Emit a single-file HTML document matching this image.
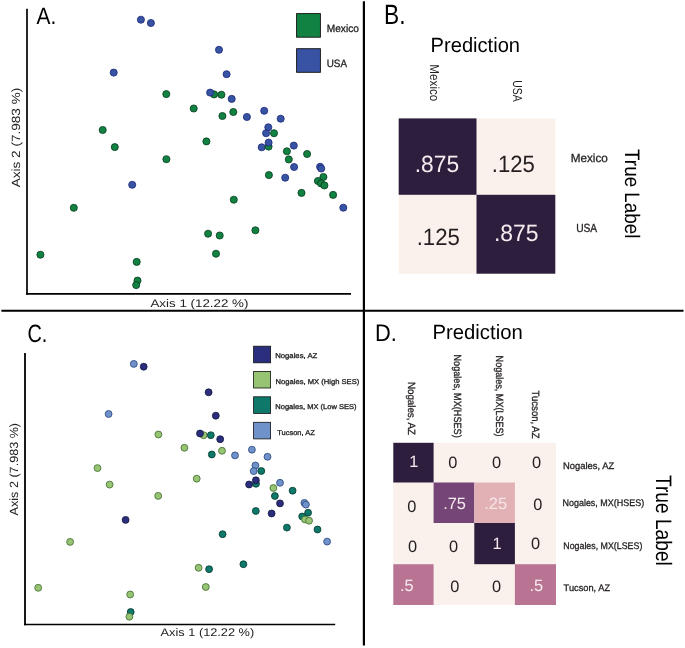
<!DOCTYPE html>
<html><head><meta charset="utf-8"><style>
html,body{margin:0;padding:0;background:#fff;}
svg{display:block;font-family:"Liberation Sans", sans-serif;}
svg{will-change:transform}
text{text-rendering:geometricPrecision}
</style></head><body>
<svg width="685" height="648" viewBox="0 0 685 648">
<rect width="685" height="648" fill="#fff"/>
<line x1="1.4" y1="310.75" x2="683.5" y2="310.75" stroke="#000" stroke-width="2.2"/>
<line x1="363.9" y1="1.2" x2="363.9" y2="645.6" stroke="#000" stroke-width="2.2"/>
<line x1="27.0" y1="8.8" x2="27.0" y2="294.7" stroke="#000" stroke-width="1.7"/>
<line x1="26.2" y1="293.8" x2="351" y2="293.8" stroke="#000" stroke-width="1.8"/>
<line x1="25.0" y1="353" x2="25.0" y2="625.3" stroke="#000" stroke-width="1.8"/>
<line x1="24.1" y1="624.5" x2="335.2" y2="624.5" stroke="#000" stroke-width="1.7"/>
<circle cx="140.90" cy="19.70" r="3.55" fill="#3853a3" stroke="#1a2878" stroke-width="0.8"/>
<circle cx="150.90" cy="23.00" r="3.55" fill="#3853a3" stroke="#1a2878" stroke-width="0.8"/>
<circle cx="219.00" cy="49.80" r="3.55" fill="#3853a3" stroke="#1a2878" stroke-width="0.8"/>
<circle cx="226.60" cy="74.20" r="3.55" fill="#3853a3" stroke="#1a2878" stroke-width="0.8"/>
<circle cx="113.70" cy="72.60" r="3.55" fill="#3853a3" stroke="#1a2878" stroke-width="0.8"/>
<circle cx="231.70" cy="98.90" r="3.55" fill="#3853a3" stroke="#1a2878" stroke-width="0.8"/>
<circle cx="246.90" cy="117.00" r="3.55" fill="#3853a3" stroke="#1a2878" stroke-width="0.8"/>
<circle cx="264.20" cy="110.80" r="3.55" fill="#3853a3" stroke="#1a2878" stroke-width="0.8"/>
<circle cx="280.70" cy="118.70" r="3.55" fill="#3853a3" stroke="#1a2878" stroke-width="0.8"/>
<circle cx="268.30" cy="127.30" r="3.55" fill="#3853a3" stroke="#1a2878" stroke-width="0.8"/>
<circle cx="266.10" cy="133.20" r="3.55" fill="#3853a3" stroke="#1a2878" stroke-width="0.8"/>
<circle cx="261.70" cy="147.30" r="3.55" fill="#3853a3" stroke="#1a2878" stroke-width="0.8"/>
<circle cx="293.80" cy="145.60" r="3.55" fill="#3853a3" stroke="#1a2878" stroke-width="0.8"/>
<circle cx="294.10" cy="167.00" r="3.55" fill="#3853a3" stroke="#1a2878" stroke-width="0.8"/>
<circle cx="320.10" cy="166.80" r="3.55" fill="#3853a3" stroke="#1a2878" stroke-width="0.8"/>
<circle cx="321.20" cy="168.50" r="3.55" fill="#3853a3" stroke="#1a2878" stroke-width="0.8"/>
<circle cx="285.20" cy="177.70" r="3.55" fill="#3853a3" stroke="#1a2878" stroke-width="0.8"/>
<circle cx="343.30" cy="207.70" r="3.55" fill="#3853a3" stroke="#1a2878" stroke-width="0.8"/>
<circle cx="132.20" cy="184.80" r="3.55" fill="#3853a3" stroke="#1a2878" stroke-width="0.8"/>
<circle cx="166.30" cy="94.10" r="3.55" fill="#118242" stroke="#063a1c" stroke-width="0.8"/>
<circle cx="214.10" cy="94.40" r="3.55" fill="#118242" stroke="#063a1c" stroke-width="0.8"/>
<circle cx="221.40" cy="94.70" r="3.55" fill="#118242" stroke="#063a1c" stroke-width="0.8"/>
<circle cx="193.70" cy="108.50" r="3.55" fill="#118242" stroke="#063a1c" stroke-width="0.8"/>
<circle cx="222.40" cy="116.00" r="3.55" fill="#118242" stroke="#063a1c" stroke-width="0.8"/>
<circle cx="233.30" cy="112.00" r="3.55" fill="#118242" stroke="#063a1c" stroke-width="0.8"/>
<circle cx="274.00" cy="133.20" r="3.55" fill="#118242" stroke="#063a1c" stroke-width="0.8"/>
<circle cx="206.40" cy="141.40" r="3.55" fill="#118242" stroke="#063a1c" stroke-width="0.8"/>
<circle cx="268.60" cy="146.60" r="3.55" fill="#118242" stroke="#063a1c" stroke-width="0.8"/>
<circle cx="286.90" cy="151.30" r="3.55" fill="#118242" stroke="#063a1c" stroke-width="0.8"/>
<circle cx="307.10" cy="154.00" r="3.55" fill="#118242" stroke="#063a1c" stroke-width="0.8"/>
<circle cx="288.80" cy="159.40" r="3.55" fill="#118242" stroke="#063a1c" stroke-width="0.8"/>
<circle cx="323.40" cy="177.00" r="3.55" fill="#118242" stroke="#063a1c" stroke-width="0.8"/>
<circle cx="317.90" cy="181.00" r="3.55" fill="#118242" stroke="#063a1c" stroke-width="0.8"/>
<circle cx="321.00" cy="183.40" r="3.55" fill="#118242" stroke="#063a1c" stroke-width="0.8"/>
<circle cx="324.40" cy="185.40" r="3.55" fill="#118242" stroke="#063a1c" stroke-width="0.8"/>
<circle cx="268.90" cy="175.10" r="3.55" fill="#118242" stroke="#063a1c" stroke-width="0.8"/>
<circle cx="301.50" cy="192.90" r="3.55" fill="#118242" stroke="#063a1c" stroke-width="0.8"/>
<circle cx="333.10" cy="194.90" r="3.55" fill="#118242" stroke="#063a1c" stroke-width="0.8"/>
<circle cx="233.80" cy="199.70" r="3.55" fill="#118242" stroke="#063a1c" stroke-width="0.8"/>
<circle cx="102.70" cy="130.00" r="3.55" fill="#118242" stroke="#063a1c" stroke-width="0.8"/>
<circle cx="114.80" cy="147.10" r="3.55" fill="#118242" stroke="#063a1c" stroke-width="0.8"/>
<circle cx="166.40" cy="159.20" r="3.55" fill="#118242" stroke="#063a1c" stroke-width="0.8"/>
<circle cx="73.80" cy="207.80" r="3.55" fill="#118242" stroke="#063a1c" stroke-width="0.8"/>
<circle cx="40.40" cy="254.70" r="3.55" fill="#118242" stroke="#063a1c" stroke-width="0.8"/>
<circle cx="208.10" cy="233.70" r="3.55" fill="#118242" stroke="#063a1c" stroke-width="0.8"/>
<circle cx="219.70" cy="235.50" r="3.55" fill="#118242" stroke="#063a1c" stroke-width="0.8"/>
<circle cx="255.40" cy="230.30" r="3.55" fill="#118242" stroke="#063a1c" stroke-width="0.8"/>
<circle cx="216.00" cy="253.70" r="3.55" fill="#118242" stroke="#063a1c" stroke-width="0.8"/>
<circle cx="136.70" cy="261.90" r="3.55" fill="#118242" stroke="#063a1c" stroke-width="0.8"/>
<circle cx="137.50" cy="280.60" r="3.55" fill="#118242" stroke="#063a1c" stroke-width="0.8"/>
<circle cx="136.20" cy="285.10" r="3.55" fill="#118242" stroke="#063a1c" stroke-width="0.8"/>
<circle cx="210.10" cy="92.60" r="3.55" fill="#3853a3" stroke="#1a2878" stroke-width="0.8"/>
<circle cx="268.60" cy="142.60" r="3.55" fill="#3853a3" stroke="#1a2878" stroke-width="0.8"/>
<rect x="296.6" y="13.6" width="23.8" height="23.6" fill="#118242" stroke="#111" stroke-width="0.9"/>
<rect x="296.6" y="48.7" width="23.8" height="23.6" fill="#3853a3" stroke="#111" stroke-width="0.9"/>
<rect x="398.7" y="118.4" width="156.6" height="155.3" fill="#faf1ec"/>
<rect x="398.7" y="118.4" width="77.8" height="76.4" fill="#2d1e3e"/>
<rect x="476.5" y="194.8" width="78.8" height="78.9" fill="#2d1e3e"/>
<circle cx="203.60" cy="435.20" r="3.45" fill="#96c472" stroke="#3f6a2e" stroke-width="0.8"/>
<circle cx="210.80" cy="435.20" r="3.45" fill="#0e786a" stroke="#05382f" stroke-width="0.8"/>
<circle cx="211.80" cy="454.50" r="3.45" fill="#0e786a" stroke="#05382f" stroke-width="0.8"/>
<circle cx="261.30" cy="471.00" r="3.45" fill="#0e786a" stroke="#05382f" stroke-width="0.8"/>
<circle cx="256.00" cy="483.80" r="3.45" fill="#0e786a" stroke="#05382f" stroke-width="0.8"/>
<circle cx="274.90" cy="496.00" r="3.45" fill="#0e786a" stroke="#05382f" stroke-width="0.8"/>
<circle cx="292.60" cy="490.70" r="3.45" fill="#0e786a" stroke="#05382f" stroke-width="0.8"/>
<circle cx="255.80" cy="511.00" r="3.45" fill="#0e786a" stroke="#05382f" stroke-width="0.8"/>
<circle cx="308.10" cy="512.70" r="3.45" fill="#0e786a" stroke="#05382f" stroke-width="0.8"/>
<circle cx="302.20" cy="516.50" r="3.45" fill="#0e786a" stroke="#05382f" stroke-width="0.8"/>
<circle cx="286.90" cy="527.60" r="3.45" fill="#0e786a" stroke="#05382f" stroke-width="0.8"/>
<circle cx="317.50" cy="529.50" r="3.45" fill="#0e786a" stroke="#05382f" stroke-width="0.8"/>
<circle cx="222.60" cy="534.20" r="3.45" fill="#0e786a" stroke="#05382f" stroke-width="0.8"/>
<circle cx="243.40" cy="564.20" r="3.45" fill="#0e786a" stroke="#05382f" stroke-width="0.8"/>
<circle cx="209.10" cy="569.20" r="3.45" fill="#0e786a" stroke="#05382f" stroke-width="0.8"/>
<circle cx="130.70" cy="612.00" r="3.45" fill="#0e786a" stroke="#05382f" stroke-width="0.8"/>
<circle cx="158.40" cy="434.50" r="3.45" fill="#96c472" stroke="#3f6a2e" stroke-width="0.8"/>
<circle cx="184.40" cy="447.80" r="3.45" fill="#96c472" stroke="#3f6a2e" stroke-width="0.8"/>
<circle cx="222.00" cy="450.80" r="3.45" fill="#96c472" stroke="#3f6a2e" stroke-width="0.8"/>
<circle cx="196.70" cy="478.70" r="3.45" fill="#96c472" stroke="#3f6a2e" stroke-width="0.8"/>
<circle cx="158.20" cy="495.90" r="3.45" fill="#96c472" stroke="#3f6a2e" stroke-width="0.8"/>
<circle cx="273.40" cy="488.00" r="3.45" fill="#96c472" stroke="#3f6a2e" stroke-width="0.8"/>
<circle cx="305.00" cy="519.50" r="3.45" fill="#96c472" stroke="#3f6a2e" stroke-width="0.8"/>
<circle cx="309.10" cy="520.70" r="3.45" fill="#96c472" stroke="#3f6a2e" stroke-width="0.8"/>
<circle cx="97.50" cy="468.10" r="3.45" fill="#96c472" stroke="#3f6a2e" stroke-width="0.8"/>
<circle cx="109.60" cy="484.60" r="3.45" fill="#96c472" stroke="#3f6a2e" stroke-width="0.8"/>
<circle cx="70.10" cy="541.90" r="3.45" fill="#96c472" stroke="#3f6a2e" stroke-width="0.8"/>
<circle cx="38.20" cy="587.80" r="3.45" fill="#96c472" stroke="#3f6a2e" stroke-width="0.8"/>
<circle cx="130.20" cy="594.50" r="3.45" fill="#96c472" stroke="#3f6a2e" stroke-width="0.8"/>
<circle cx="198.60" cy="567.80" r="3.45" fill="#96c472" stroke="#3f6a2e" stroke-width="0.8"/>
<circle cx="205.80" cy="587.00" r="3.45" fill="#96c472" stroke="#3f6a2e" stroke-width="0.8"/>
<circle cx="129.40" cy="616.70" r="3.45" fill="#96c472" stroke="#3f6a2e" stroke-width="0.8"/>
<circle cx="133.80" cy="363.90" r="3.45" fill="#6f92cb" stroke="#27447a" stroke-width="0.8"/>
<circle cx="108.60" cy="414.00" r="3.45" fill="#6f92cb" stroke="#27447a" stroke-width="0.8"/>
<circle cx="235.00" cy="455.40" r="3.45" fill="#6f92cb" stroke="#27447a" stroke-width="0.8"/>
<circle cx="251.90" cy="449.70" r="3.45" fill="#6f92cb" stroke="#27447a" stroke-width="0.8"/>
<circle cx="267.50" cy="456.80" r="3.45" fill="#6f92cb" stroke="#27447a" stroke-width="0.8"/>
<circle cx="255.40" cy="465.50" r="3.45" fill="#6f92cb" stroke="#27447a" stroke-width="0.8"/>
<circle cx="253.70" cy="471.10" r="3.45" fill="#6f92cb" stroke="#27447a" stroke-width="0.8"/>
<circle cx="280.00" cy="482.80" r="3.45" fill="#6f92cb" stroke="#27447a" stroke-width="0.8"/>
<circle cx="304.40" cy="502.90" r="3.45" fill="#6f92cb" stroke="#27447a" stroke-width="0.8"/>
<circle cx="305.90" cy="504.60" r="3.45" fill="#6f92cb" stroke="#27447a" stroke-width="0.8"/>
<circle cx="327.10" cy="541.60" r="3.45" fill="#6f92cb" stroke="#27447a" stroke-width="0.8"/>
<circle cx="143.70" cy="366.70" r="3.45" fill="#2a2e7c" stroke="#12143f" stroke-width="0.8"/>
<circle cx="208.60" cy="392.30" r="3.45" fill="#2a2e7c" stroke="#12143f" stroke-width="0.8"/>
<circle cx="215.80" cy="415.70" r="3.45" fill="#2a2e7c" stroke="#12143f" stroke-width="0.8"/>
<circle cx="200.00" cy="433.50" r="3.45" fill="#2a2e7c" stroke="#12143f" stroke-width="0.8"/>
<circle cx="220.20" cy="439.20" r="3.45" fill="#2a2e7c" stroke="#12143f" stroke-width="0.8"/>
<circle cx="280.00" cy="503.40" r="3.45" fill="#2a2e7c" stroke="#12143f" stroke-width="0.8"/>
<circle cx="271.60" cy="513.50" r="3.45" fill="#2a2e7c" stroke="#12143f" stroke-width="0.8"/>
<circle cx="125.60" cy="519.90" r="3.45" fill="#2a2e7c" stroke="#12143f" stroke-width="0.8"/>
<circle cx="255.90" cy="480.30" r="3.45" fill="#2a2e7c" stroke="#12143f" stroke-width="0.8"/>
<circle cx="249.10" cy="484.50" r="3.45" fill="#2a2e7c" stroke="#12143f" stroke-width="0.8"/>
<rect x="253.6" y="346.2" width="17" height="16.6" fill="#2a2e7c" stroke="#111" stroke-width="0.8"/>
<rect x="253.6" y="371.40000000000003" width="17" height="16.6" fill="#96c472" stroke="#111" stroke-width="0.8"/>
<rect x="253.6" y="396.8" width="17" height="16.6" fill="#0e786a" stroke="#111" stroke-width="0.8"/>
<rect x="253.6" y="422.3" width="17" height="16.6" fill="#6f92cb" stroke="#111" stroke-width="0.8"/>
<rect x="393.3" y="442.8" width="162.7" height="162.2" fill="#faf1ec"/>
<rect x="393.3" y="442.8" width="40.3" height="39.7" fill="#2d1e3e"/>
<rect x="433.6" y="482.5" width="40.7" height="40.5" fill="#744576"/>
<rect x="474.3" y="482.5" width="40.6" height="40.5" fill="#e1b1b5"/>
<rect x="474.3" y="523.0" width="40.6" height="41.2" fill="#2d1e3e"/>
<rect x="393.3" y="564.2" width="40.3" height="40.8" fill="#b97494"/>
<rect x="514.9" y="564.2" width="41.1" height="40.8" fill="#b97494"/>
<text x="36.59" y="23.68" font-size="23.63" fill="#000" textLength="19.71" lengthAdjust="spacingAndGlyphs">A.</text>
<text x="384.01" y="24.09" font-size="27.86" fill="#000" textLength="21.50" lengthAdjust="spacingAndGlyphs">B.</text>
<text x="27.48" y="341.72" font-size="25.02" fill="#000" textLength="19.90" lengthAdjust="spacingAndGlyphs">C.</text>
<text x="375.11" y="341.24" font-size="24.00" fill="#000" textLength="21.83" lengthAdjust="spacingAndGlyphs">D.</text>
<text x="430.58" y="51.76" font-size="20.60" fill="#000" textLength="89.44" lengthAdjust="spacingAndGlyphs">Prediction</text>
<text x="432.48" y="339.47" font-size="20.60" fill="#000" textLength="90.25" lengthAdjust="spacingAndGlyphs">Prediction</text>
<text x="326.73" y="31.92" font-size="10.64" fill="#222" textLength="32.14" lengthAdjust="spacingAndGlyphs" stroke="#222" stroke-width="0.3">Mexico</text>
<text x="326.73" y="66.68" font-size="10.64" fill="#222" textLength="20.31" lengthAdjust="spacingAndGlyphs" stroke="#222" stroke-width="0.3">USA</text>
<text x="150.46" y="307.09" font-size="11.10" fill="#222" textLength="97.96" lengthAdjust="spacingAndGlyphs">Axis 1 (12.22 %)</text>
<text x="19.92" y="187.28" font-size="11.90" fill="#222" textLength="99.57" lengthAdjust="spacingAndGlyphs" transform="rotate(-90 19.92 187.28)">Axis 2 (7.983 %)</text>
<text x="160.61" y="635.84" font-size="11.10" fill="#222" textLength="93.59" lengthAdjust="spacingAndGlyphs">Axis 1 (12.22 %)</text>
<text x="18.44" y="515.40" font-size="11.90" fill="#222" textLength="92.48" lengthAdjust="spacingAndGlyphs" transform="rotate(-90 18.44 515.40)">Axis 2 (7.983 %)</text>
<text x="275.18" y="358.36" font-size="7.00" fill="#222" textLength="42.09" lengthAdjust="spacingAndGlyphs" stroke="#222" stroke-width="0.3">Nogales, AZ</text>
<text x="275.54" y="383.81" font-size="7.00" fill="#222" textLength="83.71" lengthAdjust="spacingAndGlyphs" stroke="#222" stroke-width="0.3">Nogales, MX (High SES)</text>
<text x="275.30" y="409.05" font-size="7.00" fill="#222" textLength="81.26" lengthAdjust="spacingAndGlyphs" stroke="#222" stroke-width="0.3">Nogales, MX (Low SES)</text>
<text x="277.27" y="434.53" font-size="7.00" fill="#222" textLength="37.52" lengthAdjust="spacingAndGlyphs" stroke="#222" stroke-width="0.3">Tucson, AZ</text>
<text x="414.73" y="171.52" font-size="23.50" fill="#f5ecef" textLength="44.42" lengthAdjust="spacingAndGlyphs">.875</text>
<text x="491.83" y="171.52" font-size="23.50" fill="#231f20" textLength="43.05" lengthAdjust="spacingAndGlyphs">.125</text>
<text x="416.69" y="244.81" font-size="23.50" fill="#231f20" textLength="43.21" lengthAdjust="spacingAndGlyphs">.125</text>
<text x="493.93" y="241.36" font-size="23.50" fill="#f5ecef" textLength="44.55" lengthAdjust="spacingAndGlyphs">.875</text>
<text x="570.77" y="161.93" font-size="11.80" fill="#231f20" textLength="37.07" lengthAdjust="spacingAndGlyphs" stroke="#231f20" stroke-width="0.3">Mexico</text>
<text x="576.13" y="232.11" font-size="11.80" fill="#231f20" textLength="21.05" lengthAdjust="spacingAndGlyphs" stroke="#231f20" stroke-width="0.3">USA</text>
<text x="430.25" y="64.29" font-size="13.00" fill="#231f20" textLength="37.05" lengthAdjust="spacingAndGlyphs" transform="rotate(90 430.25 64.29)">Mexico</text>
<text x="512.53" y="80.27" font-size="13.00" fill="#231f20" textLength="21.46" lengthAdjust="spacingAndGlyphs" transform="rotate(90 512.53 80.27)">USA</text>
<text x="625.46" y="149.07" font-size="21.03" fill="#000" textLength="89.39" lengthAdjust="spacingAndGlyphs" transform="rotate(90 625.46 149.07)">True Label</text>
<text x="563.03" y="468.61" font-size="9.60" fill="#231f20" textLength="51.26" lengthAdjust="spacingAndGlyphs" stroke="#231f20" stroke-width="0.3">Nogales, AZ</text>
<text x="562.49" y="505.79" font-size="9.60" fill="#231f20" textLength="81.63" lengthAdjust="spacingAndGlyphs" stroke="#231f20" stroke-width="0.3">Nogales, MX(HSES)</text>
<text x="563.27" y="548.93" font-size="9.60" fill="#231f20" textLength="79.06" lengthAdjust="spacingAndGlyphs" stroke="#231f20" stroke-width="0.3">Nogales, MX(LSES)</text>
<text x="563.60" y="591.21" font-size="9.60" fill="#231f20" textLength="46.49" lengthAdjust="spacingAndGlyphs" stroke="#231f20" stroke-width="0.3">Tucson, AZ</text>
<text x="408.23" y="381.92" font-size="10.40" fill="#231f20" textLength="53.18" lengthAdjust="spacingAndGlyphs" transform="rotate(90 408.23 381.92)" stroke="#231f20" stroke-width="0.3">Nogales, AZ</text>
<text x="453.71" y="354.49" font-size="10.40" fill="#231f20" textLength="83.24" lengthAdjust="spacingAndGlyphs" transform="rotate(90 453.71 354.49)" stroke="#231f20" stroke-width="0.3">Nogales, MX(HSES)</text>
<text x="495.59" y="355.63" font-size="10.40" fill="#231f20" textLength="80.98" lengthAdjust="spacingAndGlyphs" transform="rotate(90 495.59 355.63)" stroke="#231f20" stroke-width="0.3">Nogales, MX(LSES)</text>
<text x="532.27" y="390.51" font-size="10.40" fill="#231f20" textLength="48.03" lengthAdjust="spacingAndGlyphs" transform="rotate(90 532.27 390.51)" stroke="#231f20" stroke-width="0.3">Tucson, AZ</text>
<text x="655.55" y="474.90" font-size="22.35" fill="#000" textLength="90.90" lengthAdjust="spacingAndGlyphs" transform="rotate(90 655.55 474.90)">True Label</text>
<text x="409.17" y="467.35" font-size="16.40" fill="#f6e9ee">1</text>
<text x="448.13" y="468.28" font-size="16.40" fill="#231f20">0</text>
<text x="492.05" y="468.28" font-size="16.40" fill="#231f20">0</text>
<text x="532.06" y="468.06" font-size="16.40" fill="#231f20">0</text>
<text x="407.33" y="512.39" font-size="16.40" fill="#231f20">0</text>
<text x="443.14" y="509.43" font-size="16.40" fill="#f6e9ee">.75</text>
<text x="484.32" y="509.20" font-size="16.40" fill="#f5e4e6">.25</text>
<text x="533.14" y="509.58" font-size="16.40" fill="#231f20">0</text>
<text x="408.05" y="551.63" font-size="16.40" fill="#231f20">0</text>
<text x="449.05" y="551.63" font-size="16.40" fill="#231f20">0</text>
<text x="492.53" y="549.43" font-size="16.40" fill="#f6e9ee">1</text>
<text x="530.88" y="549.43" font-size="16.40" fill="#231f20">0</text>
<text x="400.07" y="591.34" font-size="16.40" fill="#f6e9ee">.5</text>
<text x="450.16" y="591.94" font-size="16.40" fill="#231f20">0</text>
<text x="492.08" y="591.94" font-size="16.40" fill="#231f20">0</text>
<text x="529.45" y="591.34" font-size="16.40" fill="#f6e9ee">.5</text>
</svg>
</body></html>
